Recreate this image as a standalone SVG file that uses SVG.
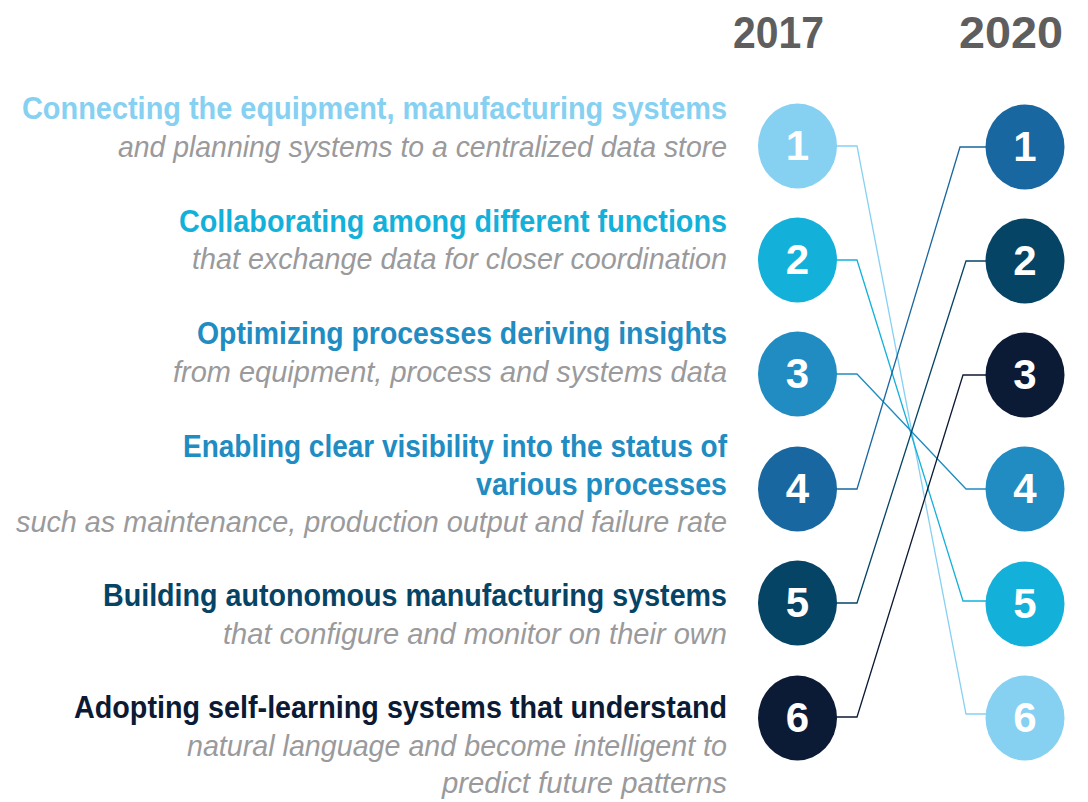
<svg xmlns="http://www.w3.org/2000/svg" width="1088" height="802" viewBox="0 0 1088 802">
<style>
.hd{font-family:"Liberation Sans",Arial,sans-serif;font-weight:bold;font-size:44px;fill:#5e5e5e}
.b{font-family:"Liberation Sans",Arial,sans-serif;font-weight:bold;font-size:31px}
.i{font-family:"Liberation Sans",Arial,sans-serif;font-style:italic;font-size:30px;fill:#9a9a9c}
.num{font-family:"Liberation Sans",Arial,sans-serif;font-weight:bold;font-size:42px;fill:#ffffff;text-anchor:middle}
.c1{fill:#86d0f2}.c2{fill:#13b1da}.c3{fill:#218cc2}.c4{fill:#1967a0}.c5{fill:#064466}.c6{fill:#0b1a35}
.ln{fill:none;stroke-width:1.3}
</style>
<rect width="1088" height="802" fill="#ffffff"/>
<g id="headers">
<text class="hd" x="733" y="48" textLength="91" lengthAdjust="spacingAndGlyphs">2017</text>
<text class="hd" x="959" y="48" textLength="104" lengthAdjust="spacingAndGlyphs">2020</text>
</g>
<g id="connectors">
<polyline class="ln" stroke="#86d0f2" points="836,146 857,146 966,714 986,714"/>
<polyline class="ln" stroke="#13b1da" points="836,260 857,260 963,601 986,601"/>
<polyline class="ln" stroke="#218cc2" points="836,374 857,374 966,489 986,489"/>
<polyline class="ln" stroke="#1967a0" points="836,489 857,489 960,147 986,147"/>
<polyline class="ln" stroke="#064466" points="836,603 857,603 966,261 986,261"/>
<polyline class="ln" stroke="#0b1a35" points="836,717 857,717 963,375 986,375"/>
</g>
<g id="label-1">
<text class="b c1" x="22" y="119" textLength="705" lengthAdjust="spacingAndGlyphs">Connecting the equipment, manufacturing systems</text>
<text class="i" x="118" y="157" textLength="609" lengthAdjust="spacingAndGlyphs">and planning systems to a centralized data store</text>
</g>
<g id="label-2">
<text class="b c2" x="179" y="232" textLength="548" lengthAdjust="spacingAndGlyphs">Collaborating among different functions</text>
<text class="i" x="192" y="269" textLength="535" lengthAdjust="spacingAndGlyphs">that exchange data for closer coordination</text>
</g>
<g id="label-3">
<text class="b c3" x="197" y="344" textLength="530" lengthAdjust="spacingAndGlyphs">Optimizing processes deriving insights</text>
<text class="i" x="173" y="382" textLength="554" lengthAdjust="spacingAndGlyphs">from equipment, process and systems data</text>
</g>
<g id="label-4">
<text class="b c3" x="183" y="457" textLength="544" lengthAdjust="spacingAndGlyphs">Enabling clear visibility into the status of</text>
<text class="b c3" x="476" y="495" textLength="251" lengthAdjust="spacingAndGlyphs">various processes</text>
<text class="i" x="16" y="532" textLength="711" lengthAdjust="spacingAndGlyphs">such as maintenance, production output and failure rate</text>
</g>
<g id="label-5">
<text class="b c5" x="103" y="606" textLength="624" lengthAdjust="spacingAndGlyphs">Building autonomous manufacturing systems</text>
<text class="i" x="223" y="644" textLength="504" lengthAdjust="spacingAndGlyphs">that configure and monitor on their own</text>
</g>
<g id="label-6">
<text class="b c6" x="74" y="718" textLength="653" lengthAdjust="spacingAndGlyphs">Adopting self-learning systems that understand</text>
<text class="i" x="187" y="756" textLength="540" lengthAdjust="spacingAndGlyphs">natural language and become intelligent to</text>
<text class="i" x="442" y="793" textLength="285" lengthAdjust="spacingAndGlyphs">predict future patterns</text>
</g>
<g id="y2017-1"><ellipse class="c1" cx="797.5" cy="146" rx="39.5" ry="42.5"/><text class="num" x="797.5" y="160">1</text></g>
<g id="y2017-2"><ellipse class="c2" cx="797.5" cy="260" rx="39.5" ry="42.5"/><text class="num" x="797.5" y="274">2</text></g>
<g id="y2017-3"><ellipse class="c3" cx="797.5" cy="374" rx="39.5" ry="42.5"/><text class="num" x="797.5" y="388">3</text></g>
<g id="y2017-4"><ellipse class="c4" cx="797.5" cy="489" rx="39.5" ry="42.5"/><text class="num" x="797.5" y="503">4</text></g>
<g id="y2017-5"><ellipse class="c5" cx="797.5" cy="603" rx="39.5" ry="42.5"/><text class="num" x="797.5" y="617">5</text></g>
<g id="y2017-6"><ellipse class="c6" cx="797.5" cy="718" rx="39.5" ry="42.5"/><text class="num" x="797.5" y="732">6</text></g>
<g id="y2020-1"><ellipse class="c4" cx="1025" cy="147" rx="39.5" ry="42.5"/><text class="num" x="1025" y="161">1</text></g>
<g id="y2020-2"><ellipse class="c5" cx="1025" cy="261" rx="39.5" ry="42.5"/><text class="num" x="1025" y="275">2</text></g>
<g id="y2020-3"><ellipse class="c6" cx="1025" cy="375" rx="39.5" ry="42.5"/><text class="num" x="1025" y="389">3</text></g>
<g id="y2020-4"><ellipse class="c3" cx="1025" cy="489" rx="39.5" ry="42.5"/><text class="num" x="1025" y="503">4</text></g>
<g id="y2020-5"><ellipse class="c2" cx="1025" cy="604" rx="39.5" ry="42.5"/><text class="num" x="1025" y="618">5</text></g>
<g id="y2020-6"><ellipse class="c1" cx="1025" cy="718" rx="39.5" ry="42.5"/><text class="num" x="1025" y="732">6</text></g>
</svg>
